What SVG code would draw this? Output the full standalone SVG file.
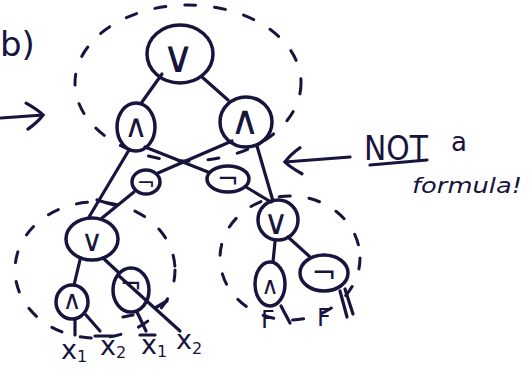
<svg xmlns="http://www.w3.org/2000/svg" width="529" height="369" viewBox="0 0 529 369">
<style>
.n{fill:none;stroke:#17153d;stroke-width:3.5}
.s{font-family:"DejaVu Sans",sans-serif;fill:#17153d;text-anchor:middle;dominant-baseline:central}
.e{stroke:#17153d;stroke-width:3.2;stroke-linecap:round;fill:none}
.d{fill:none;stroke:#17153d;stroke-width:3;stroke-dasharray:11 19;stroke-linecap:round}
.t{font-family:"DejaVu Sans",sans-serif;fill:#17153d}
</style>
<defs>
<marker id="ah" viewBox="0 0 20 30" refX="18" refY="15" markerWidth="20" markerHeight="30" orient="auto" markerUnits="userSpaceOnUse">
<path d="M2,2 Q14,10 18,15 Q12,22 2,28" fill="none" stroke="#17153d" stroke-width="3.2" stroke-linecap="round"/>
</marker>
</defs>
<rect width="529" height="369" fill="#ffffff"/>

<g id="groups">
<ellipse class="d" cx="188" cy="83" rx="113" ry="78"/>
<ellipse class="d" cx="95" cy="270" rx="80" ry="68"/>
<ellipse class="d" cx="290" cy="258" rx="70" ry="62"/>
</g>

<g id="connectors">
<line class="e" x1="162" y1="74" x2="142" y2="102"/>
<line class="e" x1="202" y1="77" x2="228" y2="100"/>
<line class="e" x1="129" y1="150" x2="89" y2="217"/>
<line class="e" x1="145" y1="147" x2="208" y2="172"/>
<line class="e" x1="232" y1="141" x2="158" y2="173"/>
<line class="e" x1="257" y1="146" x2="273" y2="201"/>
<line class="e" x1="134" y1="192" x2="102" y2="218"/>
<line class="e" x1="246" y1="187" x2="271" y2="202"/>
<line class="e" x1="97" y1="200" x2="114" y2="205"/>
<line class="e" x1="80" y1="260" x2="74" y2="285"/>
<line class="e" x1="103" y1="258" x2="118" y2="272"/>
<line class="e" x1="75" y1="319" x2="75" y2="335"/>
<line class="e" x1="86" y1="315" x2="100" y2="331"/>
<line class="e" x1="118" y1="275" x2="180" y2="331"/>
<line class="e" x1="155" y1="308" x2="167" y2="301"/>
<line class="e" x1="137" y1="312" x2="146" y2="331"/>
<line class="e" x1="123" y1="317" x2="133" y2="315"/>
<line class="e" x1="275" y1="242" x2="273" y2="262"/>
<line class="e" x1="288" y1="237" x2="309" y2="256"/>
<line class="e" x1="281" y1="306" x2="290" y2="323"/>
<line class="e" x1="340" y1="291" x2="347" y2="317"/>
<line class="e" x1="345" y1="289" x2="353" y2="314"/>
</g>

<g id="n-root"><ellipse class="n" cx="180" cy="54" rx="33" ry="29"/><text class="s" x="178" y="56" font-size="44">∨</text></g>
<g id="n-and-l"><ellipse class="n" cx="136" cy="127" rx="19" ry="24"/><text class="s" x="136" y="126" font-size="32">∧</text></g>
<g id="n-and-r"><ellipse class="n" cx="246" cy="122" rx="26" ry="25"/><text class="s" x="245" y="120" font-size="40">∧</text></g>
<g id="n-not-l"><ellipse class="n" cx="146" cy="182" rx="14" ry="12"/><text class="s" x="146" y="182" font-size="22">¬</text></g>
<g id="n-not-r"><ellipse class="n" cx="228" cy="179" rx="21" ry="13"/><text class="s" x="228" y="179" font-size="26">¬</text></g>
<g id="n-or-l"><ellipse class="n" cx="92" cy="239" rx="26" ry="21"/><text class="s" x="92" y="240" font-size="30">∨</text></g>
<g id="n-or-r"><ellipse class="n" cx="278" cy="220" rx="20" ry="20"/><text class="s" x="276" y="222" font-size="34">∨</text></g>
<g id="n-and-bl"><ellipse class="n" cx="72" cy="302" rx="16" ry="17"/><text class="s" x="72" y="300" font-size="26">∧</text></g>
<g id="n-not-bl"><ellipse class="n" cx="131" cy="290" rx="18" ry="22"/><text class="s" x="131" y="284" font-size="26">¬</text></g>
<g id="n-and-br"><ellipse class="n" cx="270" cy="284" rx="15" ry="22"/><text class="s" x="270" y="286" font-size="24">∧</text></g>
<g id="n-not-br"><ellipse class="n" cx="324" cy="273" rx="24" ry="18"/><text class="s" x="324" y="272" font-size="30">¬</text></g>

<g id="leaves">
<text class="t" x="61" y="359" font-size="27">x<tspan font-size="16" dy="3">1</tspan></text>
<text class="t" x="100" y="355" font-size="27">x<tspan font-size="16" dy="3">2</tspan></text>
<line class="e" x1="95" y1="336" x2="112" y2="336"/>
<text class="t" x="141" y="354" font-size="27">x<tspan font-size="16" dy="3">1</tspan></text>
<line class="e" x1="140" y1="335" x2="155" y2="335"/>
<text class="t" x="176" y="349" font-size="27">x<tspan font-size="16" dy="5">2</tspan></text>
<text class="t" x="261" y="328" font-size="24">F</text>
<text class="t" x="317" y="326" font-size="24">F</text>
</g>

<g id="annotations">
<text class="t" x="0" y="56" font-size="34">b)</text>
<line class="e" x1="1" y1="118" x2="43" y2="115" marker-end="url(#ah)"/>
<line class="e" x1="350" y1="157" x2="285" y2="162" marker-end="url(#ah)"/>
<text class="t" x="364" y="160" font-size="34" textLength="64" lengthAdjust="spacingAndGlyphs">NOT</text>
<text class="t" x="451" y="151" font-size="26">a</text>
<line class="e" x1="370" y1="165" x2="427" y2="160"/>
<text class="t" x="412" y="193" font-size="22" font-style="italic" textLength="110" lengthAdjust="spacingAndGlyphs">formula!</text>
</g>
</svg>
